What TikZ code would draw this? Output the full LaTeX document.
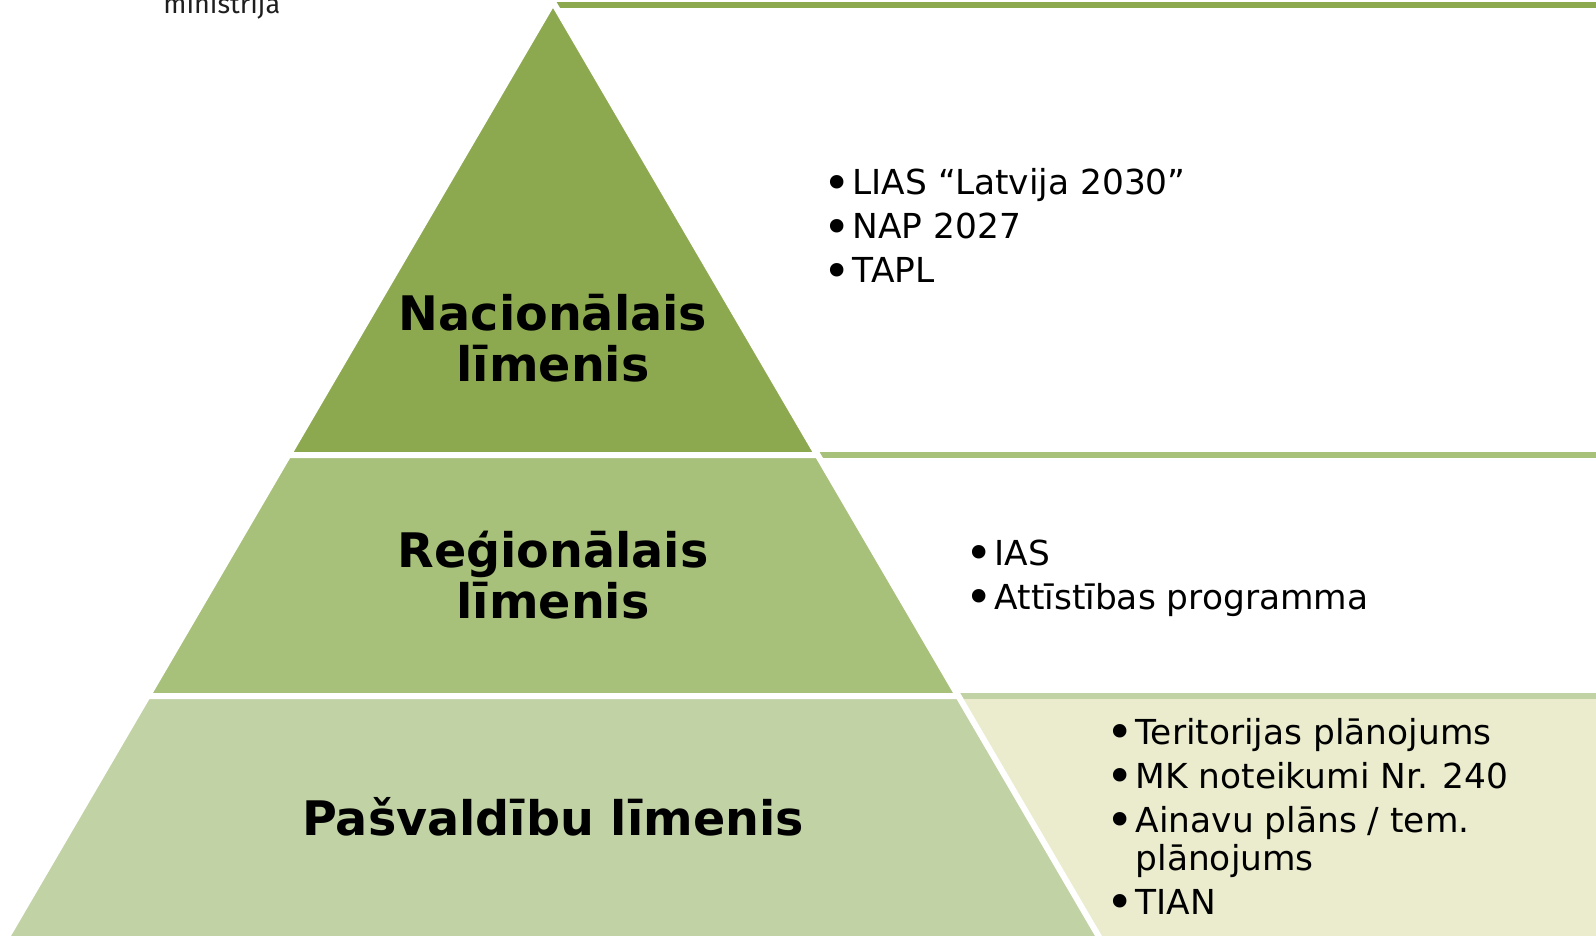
\documentclass[tikz,border=0pt]{standalone}
\usepackage{fontspec}
\setmainfont{DejaVu Sans}
\newfontfamily\logofont{Fira Sans}
\usepackage{graphicx}
\usepackage{xcolor}
\definecolor{lvlA}{HTML}{8DA950}
\definecolor{lvlB}{HTML}{A7C07A}
\definecolor{lvlC}{HTML}{C1D2A5}
\definecolor{panelC}{HTML}{EBECCE}
\definecolor{logogray}{HTML}{1E1E1E}
\usepackage{tikz}
\usetikzlibrary{positioning}
\newcommand{\bul}{\makebox[0.85em][l]{\raisebox{-0.12em}{\scalebox{1.35}{•}}}}

\begin{document}
\begin{tikzpicture}[x=0.5pt, y=-0.5pt,
    band/.style={draw=white, line width=3pt, line join=miter},
    level/.style={inner sep=0pt, anchor=base,
                  font=\bfseries\fontsize{23.8}{25}\selectfont},
    items/.style={inner sep=0pt, anchor=base west,
                  font=\fontsize{17.2}{22}\selectfont}]
  \useasboundingbox (0,0) rectangle (1596,936);
  \clip (0,0) rectangle (1596,936);

  % right-hand panels and their top bars
  \fill[lvlA] (550,2) rectangle (1596,8);
  \fill[lvlB] (800,452) rectangle (1596,458);
  \fill[panelC] (940,696) -- (1596,696) -- (1596,936) -- (1080,936) -- cycle;
  \fill[lvlC] (940,693) rectangle (1596,699);

  % pyramid, three levels
  \filldraw[band, fill=lvlA] (553,2) -- (817.6,455) -- (288.4,455) -- cycle;
  \filldraw[band, fill=lvlB] (288.4,455) -- (817.6,455) -- (958.3,696) -- (147.7,696) -- cycle;
  \filldraw[band, fill=lvlC] (147.7,696) -- (958.3,696) -- (1112.5,960) -- (-6.5,960) -- cycle;

  \node[anchor=base west, inner sep=0pt, text=logogray,
        font=\logofont\fontsize{13.5}{15}\selectfont] (logo) at (163,14) {ministrija};

  \node[level] (natl) at (553,330) {\begin{tabular}[t]{@{}c@{}}Nacionālais\\līmenis\end{tabular}};
  \node[level] (regl) at (553,567) {\begin{tabular}[t]{@{}c@{}}Reģionālais\\līmenis\end{tabular}};
  \node[level] (pasv) at (553,835) {Pašvaldību līmenis};

  \node[items] (natlist) at (823,195) {\begin{tabular}[t]{@{}l@{}}
    \bul LIAS “Latvija 2030”\\
    \bul NAP 2027\\
    \bul TAPL
  \end{tabular}};
  \node[items] (reglist) at (965,565) {\begin{tabular}[t]{@{}l@{}}
    \bul IAS\\
    \bul Attīstības programma
  \end{tabular}};
  \node[items] (pasvlist) at (1106,744) {\begin{tabular}[t]{@{}l@{}}
    \bul Teritorijas plānojums\\
    \bul MK noteikumi Nr. 240\\
    \bul Ainavu plāns / tem.\\[-2.8pt]
    \hspace{0.85em}plānojums\\
    \bul TIAN
  \end{tabular}};
\end{tikzpicture}
\end{document}
